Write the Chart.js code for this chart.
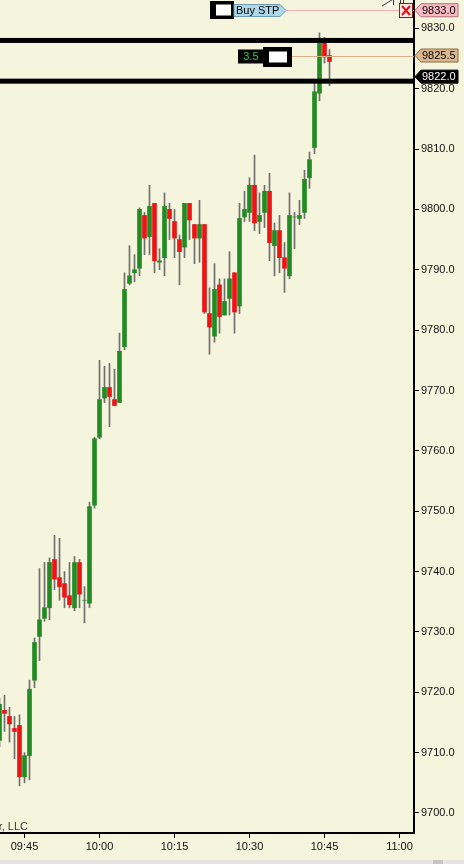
<!DOCTYPE html>
<html>
<head>
<meta charset="utf-8">
<script src="https://cdn.jsdelivr.net/npm/chart.js@4.4.1/dist/chart.umd.min.js"></script>
<style>
  html, body { margin: 0; padding: 0; background: #f5f4dc; }
  canvas { display: block; }
</style>
</head>
<body>
<canvas id="chart" width="464" height="864"></canvas>
<script>
// one-minute bars
const times = [
  '09:40','09:41','09:42','09:43','09:44','09:45','09:46','09:47','09:48','09:49',
  '09:50','09:51','09:52','09:53','09:54','09:55','09:56','09:57','09:58','09:59',
  '10:00','10:01','10:02','10:03','10:04','10:05','10:06','10:07','10:08','10:09',
  '10:10','10:11','10:12','10:13','10:14','10:15','10:16','10:17','10:18','10:19',
  '10:20','10:21','10:22','10:23','10:24','10:25','10:26','10:27','10:28','10:29',
  '10:30','10:31','10:32','10:33','10:34','10:35','10:36','10:37','10:38','10:39',
  '10:40','10:41','10:42','10:43','10:44','10:45','10:46'
];
const opens = [
  9712, 9717, 9716, 9714, 9714.5, 9706, 9709.5, 9722, 9729.25, 9732.25,
  9734, 9742, 9739, 9738, 9736, 9734, 9741.5, 9735.25, 9734.75, 9751,
  9762.25, 9768.75, 9770.5, 9768.5, 9768, 9777.25, 9787.75, 9789.5, 9790.25, 9799,
  9795.5, 9801, 9791.25, 9792, 9800, 9798, 9795, 9793.75, 9801, 9797.5,
  9795.25, 9797.5, 9782.75, 9779, 9787.5, 9782.5, 9785.25, 9789.5, 9784, 9798.75,
  9799.5, 9804, 9798, 9799.5, 9803, 9794, 9796.5, 9792, 9789, 9798.75,
  9798.5, 9799.5, 9805.25, 9810.25, 9819.25, 9828, 9825.5
];
const highs = [
  9719, 9719.5, 9717.5, 9716, 9716.25, 9710, 9722, 9729, 9740.5, 9741.5,
  9742.25, 9746, 9745.5, 9740, 9741.5, 9742.5, 9742, 9737.5, 9751.5, 9762.25,
  9775, 9774, 9774.5, 9773.5, 9779.5, 9789.5, 9794, 9792.5, 9800.25, 9799.5,
  9804, 9801, 9793.5, 9802.75, 9801, 9800, 9795.75, 9801, 9801, 9797.5,
  9801.5, 9797.5, 9787, 9791, 9788.5, 9788.5, 9793, 9789.5, 9801, 9803,
  9805.25, 9809, 9802.75, 9804, 9806, 9797.75, 9799, 9794.5, 9802.75, 9799.5,
  9801.5, 9806.5, 9809.5, 9821, 9829.25, 9828.5, 9826.5
];
const lows = [
  9711, 9713.5, 9711.75, 9709, 9704.5, 9705, 9705.5, 9720.75, 9725.25, 9731.75,
  9732, 9737, 9735.25, 9734, 9734, 9733.5, 9734, 9731.5, 9734, 9750.5,
  9762, 9768, 9764, 9767.5, 9768, 9776.75, 9787.5, 9788, 9789, 9792.5,
  9792.5, 9789.5, 9790, 9789, 9795, 9792, 9787.5, 9792, 9795, 9791,
  9791.25, 9782.75, 9776, 9778, 9779.5, 9782.5, 9782.5, 9779.5, 9782.75, 9798,
  9798, 9796.5, 9796, 9797, 9791.5, 9789, 9789.5, 9786.25, 9788.5, 9793.5,
  9797.5, 9798.5, 9803.5, 9809.25, 9818, 9824.25, 9820.5
];
const closes = [
  9718, 9716.5, 9714.75, 9713.5, 9706, 9709.5, 9720.5, 9728.25, 9732, 9734,
  9741.5, 9738.75, 9737.5, 9735.75, 9734.5, 9741.5, 9736.25, 9735.25, 9750.75, 9762,
  9768.5, 9770.5, 9769, 9767.5, 9776.5, 9786.75, 9789, 9790, 9800, 9795.25,
  9800.5, 9791.5, 9791.5, 9800.5, 9798.5, 9795.25, 9793, 9801, 9798.25, 9795.25,
  9797.5, 9783, 9780.5, 9786.75, 9782.25, 9784.75, 9788.5, 9783, 9798.5, 9800,
  9804, 9797.75, 9799, 9803, 9794.5, 9796.5, 9792, 9790.25, 9799, 9798.75,
  9799, 9805, 9808.25, 9819.5, 9827.5, 9825.25, 9824.5
];
const timeTicks = ['09:45', '10:00', '10:15', '10:30', '10:45', '11:00'];
const priceTicks = [9700, 9710, 9720, 9730, 9740, 9750, 9760, 9770, 9780, 9790, 9800, 9810, 9820, 9830];
const lineLevels = [9828, 9821.25];
const stopPrice = 9833.0;
const avgPrice = 9825.5;
const lastPrice = 9822.0;
const posSize = '3.5';
const stopLabel = 'Buy STP';

const FONT = '"Liberation Sans", Arial, sans-serif';
const UP = '#238b23';
const DOWN = '#ec1414';
const WICK = '#707070';

function toMin(s) {
  const [h, m] = s.split(':').map(Number);
  return h * 60 + m - 540;
}

const bodies = times.map((t, i) => ({ x: toMin(t), y: [opens[i], closes[i]] }));
const wicks = times.map((t, i) => ({ x: toMin(t), y: [lows[i], highs[i]] }));

const background = {
  id: 'background',
  beforeDraw(chart) {
    const ctx = chart.ctx;
    ctx.save();
    ctx.fillStyle = '#f5f4dc';
    ctx.fillRect(0, 0, chart.width, chart.height);
    ctx.fillStyle = '#e4e4e2';
    ctx.fillRect(0, 860, chart.width, 4);
    ctx.fillStyle = '#c6c6c6';
    ctx.fillRect(433, 860, 10, 4);
    ctx.restore();
  }
};

function flag(ctx, x0, cy, fill, stroke, color, text) {
  ctx.beginPath();
  ctx.moveTo(x0, cy);
  ctx.lineTo(x0 + 6, cy - 6.5);
  ctx.lineTo(458, cy - 6.5);
  ctx.lineTo(458, cy + 6.5);
  ctx.lineTo(x0 + 6, cy + 6.5);
  ctx.closePath();
  ctx.fillStyle = fill;
  ctx.fill();
  ctx.strokeStyle = stroke;
  ctx.lineWidth = 1;
  ctx.stroke();
  ctx.fillStyle = color;
  ctx.textAlign = 'left';
  ctx.textBaseline = 'middle';
  ctx.fillText(text, x0 + 7, cy + 0.5);
}

// order lines, position box and price flags
const overlays = {
  id: 'overlays',
  afterDraw(chart) {
    const { ctx, chartArea: a } = chart;
    const y = chart.scales.y;
    ctx.save();
    ctx.font = '11px ' + FONT;

    ctx.fillStyle = '#000';
    lineLevels.forEach(v => {
      ctx.fillRect(a.left, y.getPixelForValue(v) - 2.5, a.right - a.left, 5);
    });

    // stop order
    const ys = Math.round(y.getPixelForValue(stopPrice)) + 0.5;
    ctx.strokeStyle = '#f2b2ba';
    ctx.lineWidth = 1;
    ctx.beginPath();
    ctx.moveTo(286, ys);
    ctx.lineTo(a.right, ys);
    ctx.stroke();
    ctx.fillStyle = '#000';
    ctx.fillRect(210, ys - 9.5, 24, 18);
    ctx.fillStyle = '#fff';
    ctx.fillRect(216, ys - 6, 15, 11);
    ctx.beginPath();
    ctx.moveTo(234, ys - 6);
    ctx.lineTo(280, ys - 6);
    ctx.lineTo(286, ys);
    ctx.lineTo(280, ys + 6);
    ctx.lineTo(234, ys + 6);
    ctx.closePath();
    ctx.fillStyle = '#aed8ea';
    ctx.fill();
    ctx.strokeStyle = '#6f9cb4';
    ctx.stroke();
    ctx.fillStyle = '#000';
    ctx.textAlign = 'left';
    ctx.textBaseline = 'middle';
    ctx.fillText(stopLabel, 236, ys + 0.5);

    // cancel box
    ctx.fillStyle = '#fbe6e6';
    ctx.fillRect(399, ys - 7, 13, 14);
    ctx.strokeStyle = '#8a1a1a';
    ctx.strokeRect(399.5, ys - 7, 13, 14);
    ctx.strokeStyle = '#e01010';
    ctx.lineWidth = 2;
    ctx.beginPath();
    ctx.moveTo(402, ys - 4.5); ctx.lineTo(410, ys + 4.5);
    ctx.moveTo(410, ys - 4.5); ctx.lineTo(402, ys + 4.5);
    ctx.stroke();
    ctx.lineWidth = 1;
    ctx.strokeStyle = '#333';
    ctx.strokeRect(400.5, -1, 3, 4.5);
    ctx.fillStyle = '#fff';
    ctx.beginPath();
    ctx.moveTo(382, 6);
    ctx.lineTo(393.5, -1);
    ctx.lineTo(393.5, 6);
    ctx.closePath();
    ctx.fill();
    ctx.beginPath();
    ctx.moveTo(382, 6);
    ctx.lineTo(393.5, -1);
    ctx.lineTo(393.5, 5);
    ctx.stroke();

    // average price line and position size
    const ya = Math.round(y.getPixelForValue(avgPrice)) + 0.5;
    ctx.strokeStyle = '#d8b088';
    ctx.beginPath();
    ctx.moveTo(292, ya);
    ctx.lineTo(a.right, ya);
    ctx.stroke();
    ctx.fillStyle = '#000';
    ctx.fillRect(238, ya - 7, 26, 14);
    ctx.fillRect(263, ya - 9.5, 29, 20);
    ctx.fillStyle = '#fff';
    ctx.fillRect(269, ya - 5, 18, 11);
    ctx.fillStyle = '#2fd02f';
    ctx.textAlign = 'center';
    ctx.fillText(posSize, 251, ya + 0.5);

    // watermark, cut at the left edge
    ctx.fillStyle = '#3a3a3a';
    ctx.textAlign = 'right';
    ctx.fillText('\u00a9 2020 NinjaTrader, LLC', 28, 827);

    // flags on the price axis
    flag(ctx, a.right + 1, y.getPixelForValue(stopPrice), '#fbb9c4', '#b07080', '#000', stopPrice.toFixed(1));
    flag(ctx, a.right + 1, y.getPixelForValue(avgPrice), '#dcb88e', '#8a6a44', '#000', avgPrice.toFixed(1));
    flag(ctx, a.right + 1, y.getPixelForValue(lastPrice), '#000', '#000', '#fff', lastPrice.toFixed(1));
    ctx.restore();
  }
};

const axisStyle = {
  border: { color: '#000', width: 2 },
  grid: { offset: false, drawOnChartArea: false, drawTicks: true, tickLength: 5, color: '#000' },
};

new Chart(document.getElementById('chart'), {
  type: 'bar',
  data: {
    datasets: [
      {
        label: 'body',
        data: bodies,
        backgroundColor: times.map((t, i) => closes[i] >= opens[i] ? UP : DOWN),
        borderWidth: 0,
        barThickness: 4,
        grouped: false,
        order: 0
      },
      {
        label: 'wick',
        data: wicks,
        backgroundColor: WICK,
        borderWidth: 0,
        barThickness: 1,
        grouped: false,
        order: 1
      }
    ]
  },
  options: {
    responsive: false,
    animation: false,
    events: [],
    layout: { padding: 0 },
    plugins: { legend: { display: false }, tooltip: { enabled: false } },
    scales: {
      x: {
        type: 'linear',
        position: 'bottom',
        min: 40.1,
        max: 122.9,
        offset: false,
        ...axisStyle,
        ticks: {
          font: { family: FONT, size: 11 }, color: '#111', padding: 2,
          maxRotation: 0, autoSkip: false,
          callback: (v, i) => timeTicks[i]
        },
        afterBuildTicks: s => { s.ticks = timeTicks.map(t => ({ value: toMin(t) })); },
        afterFit: s => { s.height = 31; s.paddingLeft = 0; s.paddingRight = 0; }
      },
      y: {
        type: 'linear',
        position: 'right',
        min: 9696.68,
        max: 9834.7,
        ...axisStyle,
        ticks: {
          font: { family: FONT, size: 11 }, color: '#111', padding: 2,
          callback: v => Number(v).toFixed(1)
        },
        afterBuildTicks: s => { s.ticks = priceTicks.map(v => ({ value: v })); },
        afterFit: s => { s.width = 50; s.paddingTop = 0; s.paddingBottom = 0; }
      }
    }
  },
  plugins: [background, overlays]
});
</script>
</body>
</html>
